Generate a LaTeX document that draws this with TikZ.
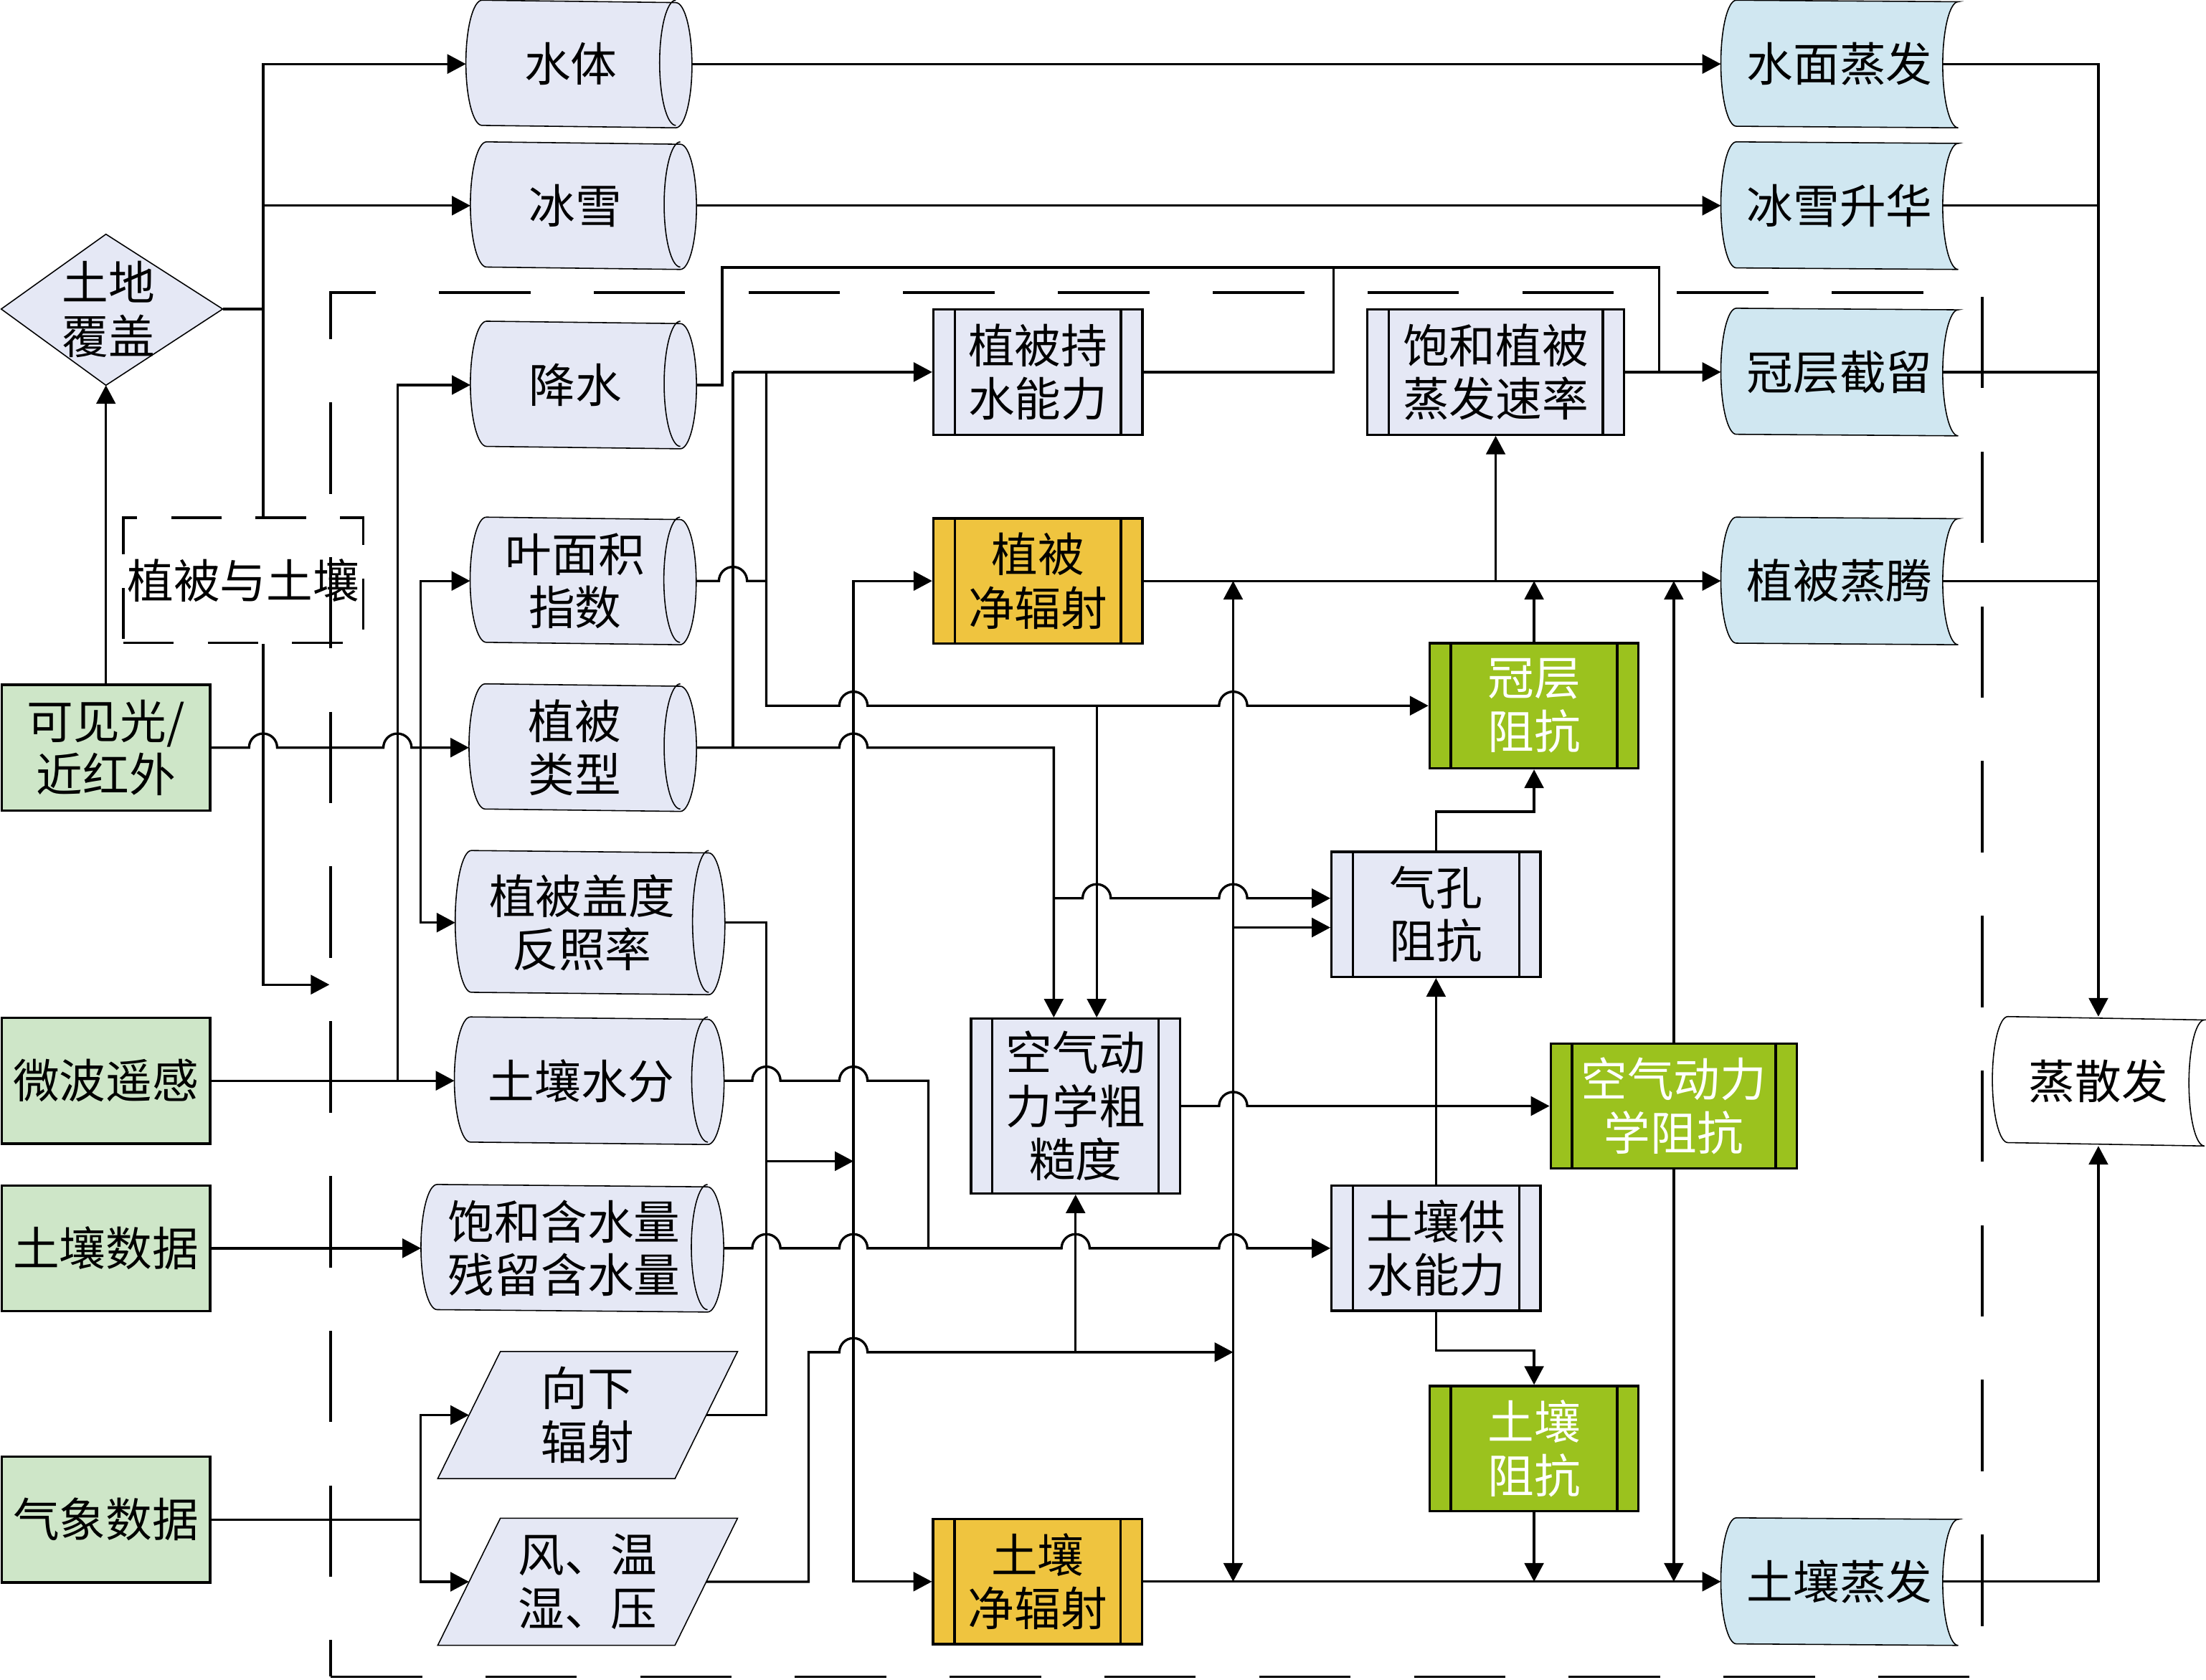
\documentclass[tikz,border=0pt]{standalone}
\usepackage{fontspec}
\setmainfont{Noto Sans CJK SC}
\usepackage{tikz}
\usetikzlibrary{arrows.meta,backgrounds}

\definecolor{lav}{RGB}{229,232,245}
\definecolor{ingreen}{RGB}{206,230,200}
\definecolor{outblue}{RGB}{208,231,241}
\definecolor{radorange}{RGB}{239,196,63}
\definecolor{resgreen}{RGB}{155,194,30}
\newcommand{\hopat}[2]{-- (#1-10,#2) arc[start angle=180,end angle=0,radius=5pt]}

\begin{document}
\begin{tikzpicture}[x=0.5pt,y=-0.5pt,>={Triangle[length=6.6pt,width=6.8pt]},line width=0.85pt,
  every node/.style={font=\fontsize{16.5pt}{19pt}\selectfont,align=center,inner sep=0pt},
  srcbox/.style={draw,fill=ingreen,minimum width=74pt,minimum height=44.7pt},
  procbox/.style={draw,fill=lav,minimum width=74.25pt,minimum height=44.5pt},
  radbox/.style={procbox,fill=radorange},
  resbox/.style={procbox,fill=resgreen,text=white},
  drum/.style={minimum height=44.5pt},
  para/.style={minimum width=105.7pt,minimum height=44.35pt},
  store/.style={minimum width=83.5pt,minimum height=44.5pt}]
\useasboundingbox (0,0) rectangle (1568,1194);
\node[draw,dash pattern=on 32.5pt off 22.5pt,minimum width=587pt,minimum height=492pt] (region) at (822,700) {};

\node[srcbox] (vis) at (75.3,531.5) {可见光/\\近红外};
\node[srcbox] (micro) at (75.3,768.3) {微波遥感};
\node[srcbox] (soild) at (75.3,887.4) {土壤数据};
\node[srcbox] (meteo) at (75.3,1080.3) {气象数据};
\node (land) at (77,220) {土地\\覆盖};
\coordinate (landE) at (158.3,219.7); \coordinate (landS) at (75.3,273.9);
\node[draw,dash pattern=on 18pt off 12pt,minimum width=85.3pt,minimum height=44.4pt] (vegsoil) at (172.9,412.5) {植被与土壤};

\node[drum,minimum width=73.75pt] (water) at (405.75,45.5) {水体};
\node[drum,minimum width=73.75pt] (snow) at (408.95,146.2) {冰雪};
\node[drum,minimum width=73.75pt] (rain) at (408.95,273.7) {降水};
\node[drum,minimum width=73.75pt] (lai) at (408.75,413) {叶面积\\指数};
\node[drum,minimum width=74.25pt] (vtype) at (408.45,531.5) {植被\\类型};
\node[drum,minimum width=89.25pt,minimum height=50.4pt] (albedo) at (413.65,655.9) {植被盖度\\反照率};
\node[drum,minimum width=89.25pt] (soilm) at (413.05,768.3) {土壤水分};
\node[drum,minimum width=101pt] (satwc) at (401.05,887.4) {饱和含水量\\残留含水量};
\node[para] (down) at (417.7,1006) {向下\\辐射};
\node[para] (wind) at (417.7,1124.5) {风、温\\湿、压};

\node[procbox] (holdcap) at (737.7,264.5) {植被持\\水能力};
\node[procbox,minimum width=91.25pt] (satevap) at (1063.1,264.5) {饱和植被\\蒸发速率};
\node[radbox] (vegrad) at (737.7,413) {植被\\净辐射};
\node[resbox] (canres) at (1090.4,501.7) {冠层\\阻抗};
\node[procbox] (stores) at (1020.7,650) {气孔\\阻抗};
\node[procbox,minimum height=62.1pt] (rough) at (764.5,786.3) {空气动\\力学粗\\糙度};
\node[resbox,minimum width=87.5pt] (aerores) at (1189.7,786.3) {空气动力\\学阻抗};
\node[procbox] (soilsup) at (1020.7,887.4) {土壤供\\水能力};
\node[resbox] (soilres) at (1090.4,1029.8) {土壤\\阻抗};
\node[radbox] (soilrad) at (737.5,1124.4) {土壤\\净辐射};

\node[store] (wevap) at (1307.5,45.5) {水面蒸发};
\node[store] (ssub) at (1307.5,146.2) {冰雪升华};
\node[store] (intercept) at (1307.5,264.5) {冠层截留};
\node[store] (transp) at (1307.5,413) {植被蒸腾};
\node[store] (sevap) at (1307.5,1124.4) {土壤蒸发};
\node[store,minimum width=74.5pt,minimum height=45.15pt] (et) at (1491.5,768.7) {蒸散发};

\begin{scope}[on background layer]
\draw[fill=lav] (75.3,166.5) -- (landE) -- (landS) -- (0.85,219.7) -- cycle;
\foreach \n/\r in {water/22.25,snow/22.25,rain/22.25,lai/22.25,vtype/22.25,albedo/25.2,soilm/22.25,satwc/22.25}
  \draw[fill=lav] ([xshift=5.75pt]\n.north west) arc[start angle=90,end angle=270,x radius=5.75pt,y radius=\r pt] -- (\n.south east) arc[start angle=270,end angle=450,x radius=5.75pt,y radius=\r pt] -- cycle (\n.north east) arc[start angle=90,end angle=270,x radius=5.75pt,y radius=\r pt];
\foreach \n in {down,wind}
  \draw[fill=lav] ([xshift=22.25pt]\n.north west) -- (\n.north east) -- ([xshift=-22.25pt]\n.south east) -- (\n.south west) -- cycle;
\foreach \n/\c in {wevap/outblue,ssub/outblue,intercept/outblue,transp/outblue,sevap/outblue,et/white}
  \draw[fill=\c] ([xshift=5.5pt]\n.north west) arc[start angle=90,end angle=270,x radius=5.5pt,y radius=22.4pt] -- (\n.south east) arc[start angle=270,end angle=90,x radius=5.5pt,y radius=22.4pt] -- cycle;
\end{scope}
\foreach \n in {holdcap,satevap,vegrad,canres,stores,rough,aerores,soilsup,soilres,soilrad}
  \draw ([xshift=8pt]\n.north west) -- ([xshift=8pt]\n.south west) ([xshift=-8pt]\n.north east) -- ([xshift=-8pt]\n.south east);

\coordinate (trunk) at (187,219.7); \coordinate (mbus) at (299,1080.3);
\draw[->] (vis.north) -- (landS); \draw (landE) -- (trunk);
\draw[->] (trunk) |- (water.west); \draw[->] (trunk) |- (snow.west); \draw (trunk) -- (trunk |- vegsoil.north);
\draw[->] (trunk |- vegsoil.south) |- (region.west);
\draw[->] (vis.east) \hopat{187}{531.5} \hopat{282.5}{531.5} -- (vtype.west);
\draw[->] (298.8,531.5) |- (lai.west); \draw[->] (298.8,531.5) |- (albedo.west);
\draw[->] (micro.east) -- (soilm.west); \draw[->] (282.5,768.3) |- (rain.west);
\draw[->] (soild.east) -- (satwc.west);
\draw (meteo.east) -- (mbus); \draw[->] (mbus) |- ([xshift=11.1pt]down.west); \draw[->] (mbus) |- ([xshift=11.1pt]wind.west);

\draw[->] ([xshift=5.75pt]water.east) -- (wevap.west); \draw[->] ([xshift=5.75pt]snow.east) -- (ssub.west);
\draw ([xshift=5.75pt]rain.east) -| (513.3,190.2) -| (1179.3,264.5); \draw (holdcap.east) -| (948,190.2);
\draw[->] (satevap.east) -- (intercept.west);
\draw[->] (521,264.5) -- (holdcap.west); \draw (521,264.5) -- (521,531.5);
\draw ([xshift=5.75pt]lai.east) \hopat{521}{413} -- (544.7,413);
\draw[->] (544.7,264.5) -- (544.7,501.7) \hopat{606.6}{501.7} \hopat{876.5}{501.7} -- (canres.west);
\draw[->] (779.5,501.7) -- ([xshift=7.5pt]rough.north);
\draw[->] ([xshift=5.75pt]vtype.east) \hopat{606.6}{531.5} -- (749,531.5) -- ([xshift=-7.75pt]rough.north);
\draw[->] (749,638.6) \hopat{779.5}{638.6} \hopat{876.5}{638.6} -- ([yshift=5.7pt]stores.west);
\draw[->] (876.5,659.4) -- ([yshift=-4.7pt]stores.west);
\draw ([xshift=5.75pt]albedo.east) -| (544.7,1006) -- ([xshift=-11.1pt]down.east);
\draw[->] (544.7,825.5) -- (606.6,825.5);
\draw[<->] (vegrad.west) -| (606.6,1124.4) -- (soilrad.west);
\draw ([xshift=5.75pt]soilm.east) \hopat{544.7}{768.3} \hopat{606.6}{768.3} -| (659.9,887.4);
\draw[->] ([xshift=5.75pt]satwc.east) \hopat{544.7}{887.4} \hopat{606.6}{887.4} \hopat{764.5}{887.4} \hopat{876.5}{887.4} -- (soilsup.west);
\draw[->] ([xshift=-11.1pt]wind.east) -| (574.7,961.3) \hopat{606.6}{961.3} -- (876.5,961.3);
\draw[->] (764.5,961.3) -- (rough.south);
\draw[<->] (876.5,413) -- (876.5,1124.4);
\draw[->] (rough.east) \hopat{876.5}{786.3} -- (aerores.west);

\draw[->] (vegrad.east) -- (transp.west); \draw[->] (1063.1,413) -- (satevap.south);
\draw[->] (canres.north) -- (1090.4,413); \draw[->] (stores.north) -- (1020.7,577.1) -| (canres.south);
\draw[->] (aerores.north) -- (1189.7,413); \draw[->] (aerores.south) -- (1189.7,1124.4);
\draw[->] (soilsup.north) -- (stores.south); \draw[->] (soilsup.south) -- (1020.7,960) -| (soilres.north);
\draw[->] (soilres.south) -- (1090.4,1124.4); \draw[->] (soilrad.east) -- (sevap.west);

\draw[->] ([xshift=-5.5pt]wevap.east) -| (et.north);
\draw ([xshift=-5.5pt]ssub.east) -- (et.north |- ssub.east);
\draw ([xshift=-5.5pt]intercept.east) -- (et.north |- intercept.east);
\draw ([xshift=-5.5pt]transp.east) -- (et.north |- transp.east);
\draw[->] ([xshift=-5.5pt]sevap.east) -| (et.south);
\end{tikzpicture}
\end{document}
